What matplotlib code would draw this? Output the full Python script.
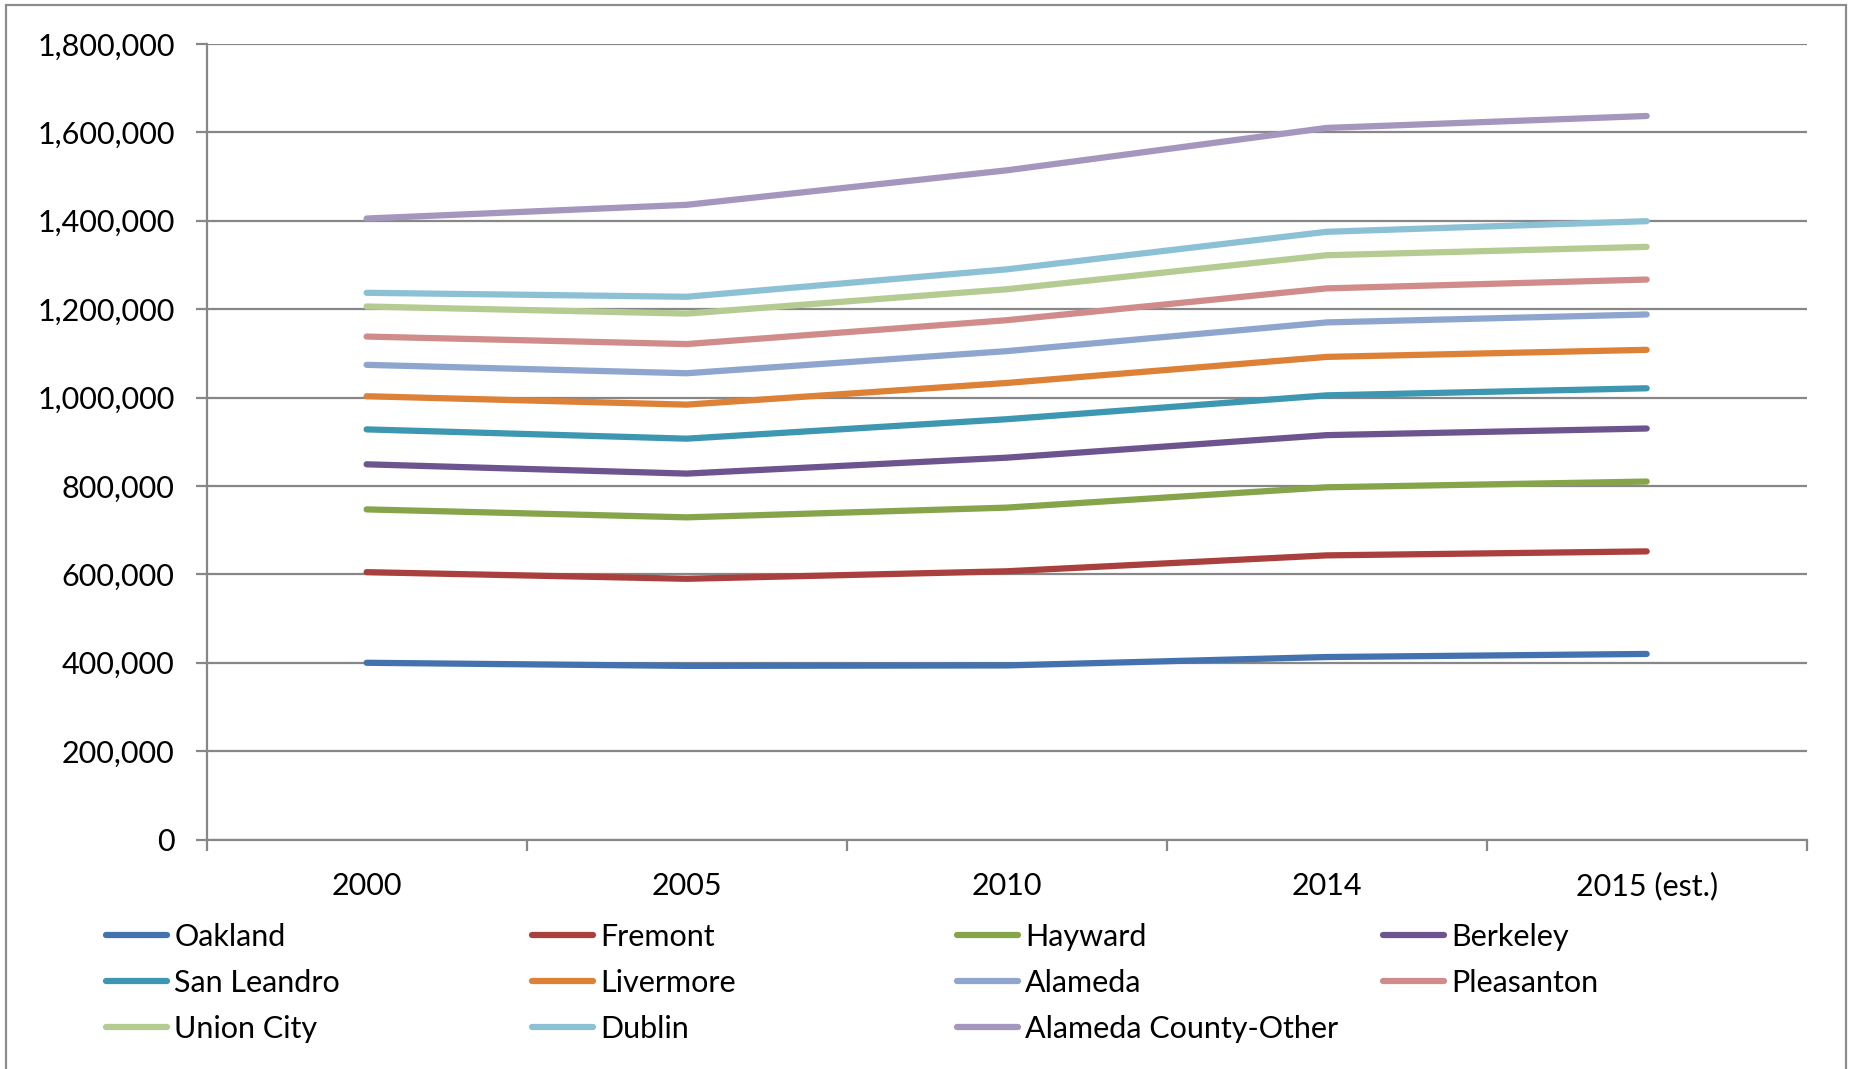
import numpy as np
import matplotlib
matplotlib.use("Agg")
import matplotlib.pyplot as plt
from matplotlib.patches import Rectangle
from matplotlib.ticker import FuncFormatter, FixedLocator

plt.rcParams['font.family'] = ['Lato', 'DejaVu Sans']

years = ['2000', '2005', '2010', '2014', '2015 (est.)']

# population per city (stacked in the chart)
oakland = [400000, 393000, 394000, 413000, 420000]
fremont = [205000, 197000, 213000, 230000, 232000]
hayward = [142000, 139000, 144000, 154000, 158000]
berkeley = [102000, 99000, 113000, 118000, 120000]
san_leandro = [79000, 79000, 87000, 90000, 91000]
livermore = [75000, 77000, 82000, 87000, 87000]
alameda = [71000, 71000, 72000, 78000, 80000]
pleasanton = [64000, 66000, 70000, 77000, 79000]
union_city = [68000, 69000, 70000, 75000, 74000]
dublin = [31000, 38000, 45000, 53000, 58000]
county_other = [168000, 208000, 224000, 235000, 238000]

names = ['Oakland', 'Fremont', 'Hayward', 'Berkeley', 'San Leandro', 'Livermore',
         'Alameda', 'Pleasanton', 'Union City', 'Dublin', 'Alameda County-Other']
series = [oakland, fremont, hayward, berkeley, san_leandro, livermore,
          alameda, pleasanton, union_city, dublin, county_other]
colors = ['#4472AE', '#A9403D', '#86A44A', '#6D548F', '#3D97B0', '#DC8136',
          '#8EA6CE', '#D08C8B', '#B4CB91', '#8CC1D5', '#A596BE']

grid_c = '#878787'

fig = plt.figure(figsize=(18.53, 10.69), dpi=100)
ax = fig.add_axes([0.1115, 0.2146, 0.8635, 0.7443])

stacked = np.cumsum(np.array(series, dtype=float), axis=0)
x = np.arange(len(years)) + 0.5
lines = []
for vals, name, c in zip(stacked, names, colors):
    ln, = ax.plot(x, vals, color=c, lw=4.5, solid_capstyle='round',
                  solid_joinstyle='round', label=name)
    lines.append(ln)

ax.set_xlim(0, len(years))
ax.set_ylim(0, 1800000)
ax.set_yticks(np.arange(0, 1800001, 200000))
ax.yaxis.set_major_formatter(FuncFormatter(lambda v, p: f'{int(v):,}'))
ax.set_xticks(x)
ax.set_xticklabels(years)
ax.xaxis.set_minor_locator(FixedLocator(np.arange(0, len(years) + 1)))

ax.grid(axis='y', color=grid_c, lw=1.6)
ax.set_axisbelow(True)
for s in ['top', 'right']:
    ax.spines[s].set_visible(False)
for s in ['left', 'bottom']:
    ax.spines[s].set_color(grid_c)
    ax.spines[s].set_linewidth(1.6)

ax.tick_params(axis='y', length=8, width=1.6, color=grid_c, pad=15, labelsize=22)
ax.tick_params(axis='x', which='major', length=0, pad=23, labelsize=22)
ax.tick_params(axis='x', which='minor', length=8, width=1.6, color=grid_c)

# legend laid out in four equal columns like the original
col_x = [0.0572, 0.2871, 0.5165, 0.7464]
for j, cx in enumerate(col_x):
    hs = lines[j::4]
    fig.legend(hs, [h.get_label() for h in hs], loc='upper left',
               bbox_to_anchor=(cx, 0.1366), frameon=False, fontsize=22,
               handlelength=2.0, handletextpad=0.23, labelspacing=0.59,
               borderpad=0, borderaxespad=0)

fig.add_artist(Rectangle((0.0032, -0.01), 0.993, 1.0053, transform=fig.transFigure,
                         fill=False, edgecolor='#8c8c8c', lw=1.6))

fig.savefig('out.png', dpi=100)
